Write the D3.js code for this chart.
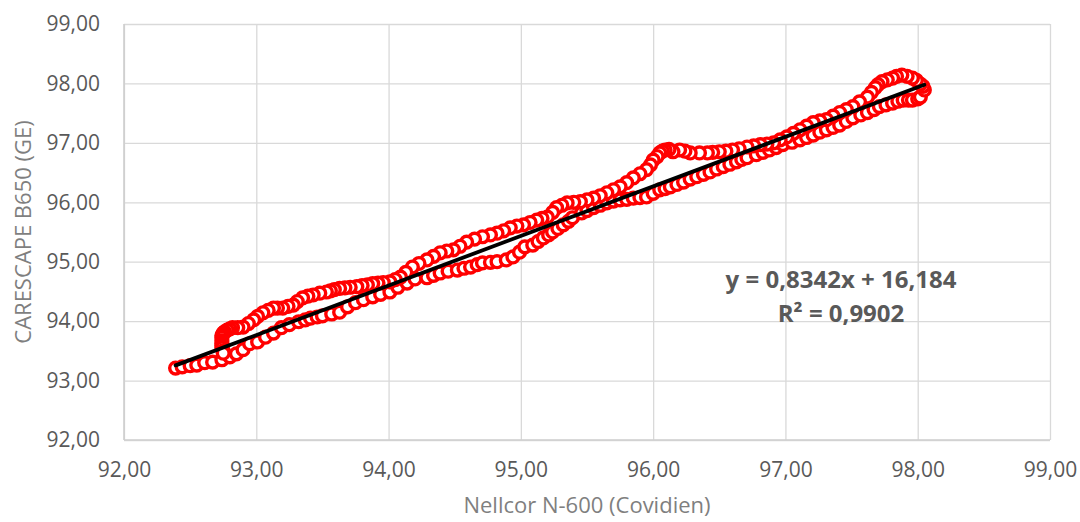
<!DOCTYPE html>
<html>
<head>
<meta charset="utf-8">
<script src="https://cdn.jsdelivr.net/npm/d3@7"></script>
<style>
  html, body { margin: 0; padding: 0; background: #fff; }
  #chart { width: 1080px; height: 522px; }
  text { font-family: "Open Sans", "Noto Sans", sans-serif; }
</style>
</head>
<body>
<div id="chart"></div>
<script>
// Paired readings: Nellcor N-600 (x) vs CARESCAPE B650 (y), in drawing order.
// lower run, left -> right
const lowerX = [
  92.39, 92.44, 92.50, 92.55, 92.61, 92.67, 92.74, 92.80, 92.85, 92.90,
  92.95, 93.01, 93.07, 93.13, 93.19, 93.25, 93.32, 93.37, 93.41, 93.46,
  93.50, 93.57, 93.63, 93.69, 93.75, 93.81, 93.88, 93.94, 94.01, 94.07,
  94.14, 94.20, 94.29, 94.34, 94.39, 94.45, 94.52, 94.57, 94.62, 94.67,
  94.71, 94.77, 94.82, 94.89, 94.94, 94.99, 95.03, 95.09, 95.13, 95.17,
  95.21, 95.24, 95.28, 95.32, 95.36, 95.39, 95.46, 95.50, 95.55, 95.60,
  95.65, 95.70, 95.75, 95.80, 95.85, 95.90, 95.95, 96.00, 96.05, 96.09,
  96.13, 96.18, 96.23, 96.28, 96.33, 96.38, 96.43, 96.48, 96.53, 96.58,
  96.63, 96.67, 96.71, 96.78, 96.83, 96.88, 96.93, 96.98, 97.05, 97.11,
  97.16, 97.21, 97.26, 97.31, 97.36, 97.41, 97.46, 97.51, 97.57, 97.62,
  97.67, 97.71, 97.76, 97.81, 97.85, 97.89, 97.93, 97.96, 98.00, 98.02
];
const lowerY = [
  93.21, 93.23, 93.25, 93.26, 93.30, 93.31, 93.35, 93.40, 93.45, 93.52,
  93.62, 93.65, 93.73, 93.80, 93.89, 93.94, 93.99, 94.02, 94.05, 94.07,
  94.09, 94.12, 94.15, 94.24, 94.31, 94.36, 94.41, 94.45, 94.49, 94.57,
  94.64, 94.71, 94.73, 94.77, 94.81, 94.84, 94.86, 94.89, 94.91, 94.95,
  94.98, 94.99, 95.00, 95.03, 95.08, 95.16, 95.25, 95.28, 95.34, 95.40,
  95.45, 95.50, 95.56, 95.62, 95.68, 95.74, 95.82, 95.86, 95.91, 95.95,
  95.99, 96.02, 96.04, 96.05, 96.07, 96.08, 96.09, 96.15, 96.21, 96.23,
  96.26, 96.30, 96.34, 96.39, 96.43, 96.47, 96.51, 96.56, 96.60, 96.64,
  96.68, 96.72, 96.75, 96.80, 96.84, 96.88, 96.92, 96.97, 97.01, 97.05,
  97.09, 97.13, 97.18, 97.22, 97.26, 97.30, 97.36, 97.42, 97.47, 97.51,
  97.56, 97.61, 97.64, 97.67, 97.70, 97.72, 97.72, 97.72, 97.74, 97.77
];
// turn at the top right
const tipX = [98.05, 98.04, 98.02, 97.99, 97.96, 97.92, 97.88, 97.84, 97.81, 97.77, 97.73, 97.70, 97.68];
const tipY = [97.89, 97.95, 97.99, 98.05, 98.09, 98.12, 98.14, 98.12, 98.09, 98.06, 98.03, 97.98, 97.93];
// upper run, right -> left
const upperX = [
  97.65, 97.62, 97.56, 97.51, 97.46, 97.41, 97.36, 97.31, 97.26, 97.21,
  97.16, 97.11, 97.06, 97.01, 96.96, 96.91, 96.86, 96.81, 96.76, 96.71,
  96.65, 96.60, 96.55, 96.50, 96.45, 96.41, 96.35, 96.28, 96.24, 96.20,
  96.15, 96.12, 96.09, 96.07, 96.05, 96.03, 96.00, 95.98, 95.95, 95.90,
  95.85, 95.80, 95.75, 95.70, 95.65, 95.60, 95.55, 95.50, 95.45, 95.40,
  95.35, 95.31, 95.27, 95.24, 95.20, 95.16, 95.12, 95.07, 95.02, 94.97,
  94.92, 94.87, 94.82, 94.77, 94.71, 94.65, 94.59, 94.54, 94.49, 94.44,
  94.39, 94.34, 94.29, 94.23, 94.18, 94.13, 94.09, 94.05, 94.01, 93.96,
  93.92, 93.88, 93.84, 93.80, 93.76, 93.71, 93.67, 93.63, 93.59, 93.56,
  93.53, 93.48, 93.43, 93.39, 93.35, 93.31, 93.28, 93.24, 93.20, 93.16,
  93.13, 93.09, 93.05, 93.01, 92.98, 92.94, 92.90, 92.86, 92.82, 92.80,
  92.78, 92.76, 92.75, 92.74, 92.74, 92.74, 92.74, 92.74, 92.74, 92.75,
  92.75
];
const upperY = [
  97.85, 97.77, 97.69, 97.61, 97.56, 97.51, 97.45, 97.39, 97.37, 97.34,
  97.28, 97.22, 97.16, 97.10, 97.05, 97.00, 96.98, 96.97, 96.95, 96.93,
  96.90, 96.88, 96.86, 96.85, 96.84, 96.83, 96.83, 96.83, 96.86, 96.88,
  96.85, 96.89, 96.88, 96.86, 96.83, 96.77, 96.71, 96.63, 96.55, 96.48,
  96.41, 96.33, 96.26, 96.21, 96.16, 96.11, 96.07, 96.04, 96.01, 96.00,
  95.99, 95.95, 95.91, 95.83, 95.75, 95.73, 95.70, 95.66, 95.62, 95.60,
  95.57, 95.52, 95.48, 95.45, 95.42, 95.38, 95.33, 95.26, 95.20, 95.18,
  95.15, 95.09, 95.03, 94.97, 94.91, 94.82, 94.74, 94.70, 94.66, 94.65,
  94.64, 94.63, 94.61, 94.60, 94.58, 94.57, 94.56, 94.55, 94.53, 94.51,
  94.49, 94.47, 94.44, 94.42, 94.39, 94.33, 94.27, 94.25, 94.22, 94.22,
  94.22, 94.18, 94.14, 94.08, 94.02, 93.96, 93.90, 93.89, 93.89, 93.87,
  93.85, 93.82, 93.80, 93.76, 93.72, 93.67, 93.63, 93.59, 93.55, 93.50,
  93.46
];

const ticks = [92, 93, 94, 95, 96, 97, 98, 99];
const trend = { slope: 0.8342, intercept: 16.184 };
const trendRange = [92.39, 98.05];
const eqLines = ["y = 0,8342x + 16,184", "R² = 0,9902"];

const fmt = (d) => d.toFixed(2).replace(".", ",");

const W = 1080, H = 522;
const margin = { top: 24, right: 30, bottom: 82, left: 124 };
const width = W - margin.left - margin.right;
const height = H - margin.top - margin.bottom;

const svg = d3.select("#chart").append("svg")
  .attr("width", W).attr("height", H);
const g = svg.append("g")
  .attr("transform", `translate(${margin.left},${margin.top})`);

const x = d3.scaleLinear().domain([92, 99]).range([0, width]);
const y = d3.scaleLinear().domain([92, 99]).range([height, 0]);

// Gridlines
g.append("g")
  .call(d3.axisLeft(y).tickValues(ticks).tickSize(-width).tickFormat(""))
  .call((a) => a.select(".domain").remove())
  .selectAll("line").attr("stroke", "#d9d9d9").attr("stroke-width", 1.3);

g.append("g")
  .attr("transform", `translate(0,${height})`)
  .call(d3.axisBottom(x).tickValues(ticks).tickSize(-height).tickFormat(""))
  .call((a) => a.select(".domain").remove())
  .selectAll("line").attr("stroke", "#d9d9d9").attr("stroke-width", 1.3);

// Axis lines
g.append("line")
  .attr("x1", 0).attr("x2", 0).attr("y1", 0).attr("y2", height)
  .attr("stroke", "#cfcfcf").attr("stroke-width", 1.6);
g.append("line")
  .attr("x1", 0).attr("x2", width).attr("y1", height).attr("y2", height)
  .attr("stroke", "#cfcfcf").attr("stroke-width", 1.6);

// Tick labels
g.append("g")
  .call(d3.axisLeft(y).tickValues(ticks).tickSize(0).tickPadding(24).tickFormat(fmt))
  .call((a) => a.select(".domain").remove())
  .selectAll("text")
  .attr("fill", "#595959").attr("font-size", "21px")
  .attr("font-family", "'Open Sans', sans-serif");

g.append("g")
  .attr("transform", `translate(0,${height})`)
  .call(d3.axisBottom(x).tickValues(ticks).tickSize(0).tickPadding(22).tickFormat(fmt))
  .call((a) => a.select(".domain").remove())
  .selectAll("text")
  .attr("fill", "#595959").attr("font-size", "21px")
  .attr("font-family", "'Open Sans', sans-serif");

// Points
const pts = [
  ...lowerX.map((v, i) => ({ x: v, y: lowerY[i] })),
  ...tipX.map((v, i) => ({ x: v, y: tipY[i] })),
  ...upperX.map((v, i) => ({ x: v, y: upperY[i] }))
];
g.selectAll(".dot")
  .data(pts)
  .join("circle")
  .attr("class", "dot")
  .attr("cx", (d) => x(d.x))
  .attr("cy", (d) => y(d.y))
  .attr("r", 5.9)
  .attr("fill", "#fff")
  .attr("stroke", "#ff0000")
  .attr("stroke-width", 3.4);

// Linear trend line
g.append("line")
  .attr("x1", x(trendRange[0]))
  .attr("y1", y(trend.slope * trendRange[0] + trend.intercept))
  .attr("x2", x(trendRange[1]))
  .attr("y2", y(trend.slope * trendRange[1] + trend.intercept))
  .attr("stroke", "#000").attr("stroke-width", 3.8)
  .attr("stroke-linecap", "round");

// Equation label
const eq = svg.append("text")
  .attr("text-anchor", "middle")
  .attr("fill", "#595959")
  .attr("font-size", "24px")
  .attr("font-weight", "bold");
eq.append("tspan").attr("x", 841).attr("y", 288).text(eqLines[0]);
eq.append("tspan").attr("x", 841).attr("y", 322).text(eqLines[1]);

// Axis titles
svg.append("text")
  .attr("x", 587).attr("y", 513)
  .attr("text-anchor", "middle")
  .attr("fill", "#7f7f7f").attr("font-size", "22px")
  .text("Nellcor N-600 (Covidien)");

svg.append("text")
  .attr("transform", `translate(31,${margin.top + height / 2}) rotate(-90)`)
  .attr("text-anchor", "middle")
  .attr("fill", "#7f7f7f").attr("font-size", "22px")
  .text("CARESCAPE B650 (GE)");
</script>
</body>
</html>
